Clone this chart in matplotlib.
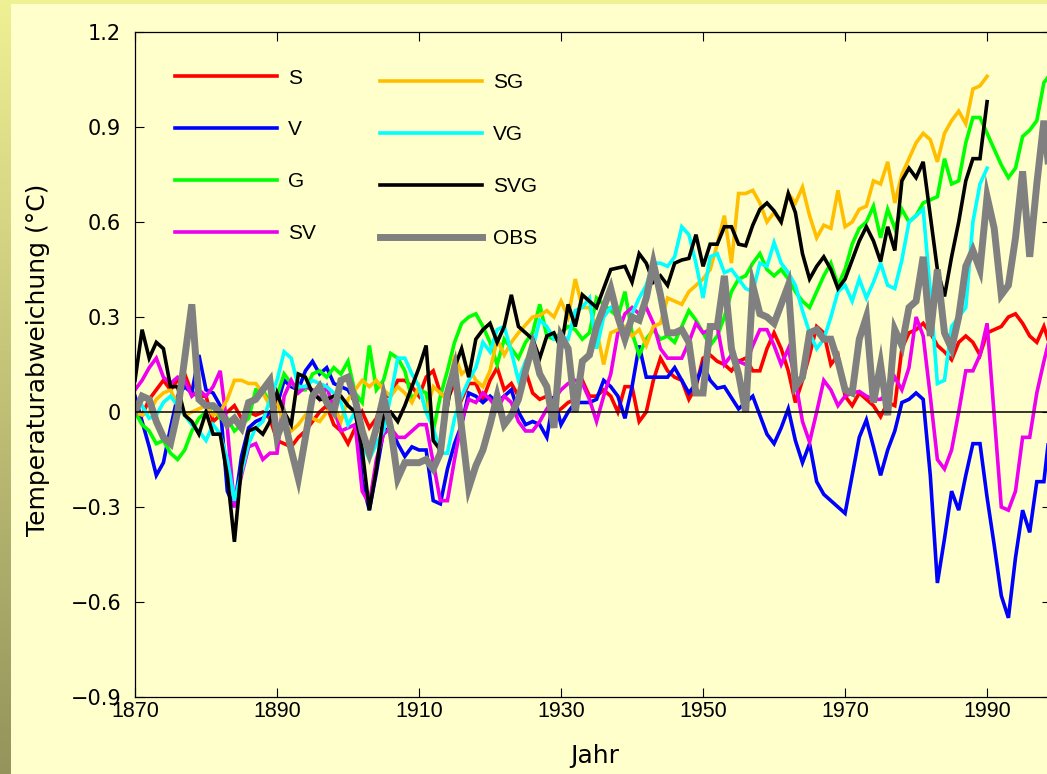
import numpy as np
import matplotlib
matplotlib.use('Agg')
import matplotlib.pyplot as plt

# ---------------- data ----------------
years_all = np.arange(1870, 2000)      # 1870..1999
years_1990 = np.arange(1870, 1991)     # 1870..1990

S = [0.00, -0.01, 0.04, 0.07, 0.10, 0.07, 0.10, 0.12, 0.06, 0.05,
     0.05, -0.03, -0.01, 0.00, 0.02, -0.02, 0.00, -0.01, 0.00, -0.02,
     -0.09, -0.10, -0.11, -0.08, -0.06, -0.03, 0.00, 0.02, -0.04, -0.06,
     -0.10, -0.05, 0.00, -0.05, -0.02, 0.05, 0.05, 0.10, 0.10, 0.08,
     0.05, 0.11, 0.13, 0.06, 0.04, 0.09, 0.04, 0.09, 0.09, 0.04,
     0.10, 0.14, 0.07, 0.09, 0.05, 0.13, 0.06, 0.04, 0.05, 0.00,
     0.01, 0.03, 0.04, 0.10, 0.05, 0.05, 0.07, 0.05, 0.00, 0.08,
     0.08, -0.03, 0.00, 0.10, 0.17, 0.13, 0.11, 0.10, 0.04, 0.08,
     0.17, 0.18, 0.16, 0.15, 0.13, 0.16, 0.17, 0.13, 0.13, 0.20,
     0.25, 0.20, 0.13, 0.03, 0.10, 0.18, 0.27, 0.25, 0.15, 0.18,
     0.05, 0.02, 0.06, 0.04, 0.02, -0.015, 0.03, 0.02, 0.20, 0.25,
     0.26, 0.28, 0.25, 0.21, 0.19, 0.165, 0.22, 0.24, 0.22, 0.18,
     0.25, 0.26, 0.27, 0.30, 0.31, 0.28, 0.24, 0.22, 0.27, 0.20]

V = [0.05, -0.03, -0.11, -0.20, -0.16, -0.05, 0.05, 0.08, 0.06, 0.18,
     0.07, 0.06, 0.02, -0.25, -0.30, -0.14, -0.05, -0.03, -0.02, 0.00,
     0.02, 0.10, 0.08, 0.07, 0.13, 0.16, 0.12, 0.14, 0.09, 0.08,
     0.07, 0.03, -0.22, -0.31, -0.19, -0.06, -0.05, -0.10, -0.14, -0.11,
     -0.12, -0.12, -0.28, -0.29, -0.18, -0.10, -0.04, 0.06, 0.05, 0.03,
     0.05, 0.03, 0.05, 0.07, 0.00, -0.04, -0.03, -0.04, -0.08, 0.05,
     -0.04, 0.00, 0.03, 0.03, 0.03, 0.04, 0.10, 0.08, 0.05, -0.02,
     0.08, 0.21, 0.11, 0.11, 0.11, 0.11, 0.14, 0.10, 0.06, 0.09,
     0.15, 0.10, 0.075, 0.08, 0.045, 0.01, 0.03, 0.05, -0.01, -0.07,
     -0.10, -0.05, 0.01, -0.09, -0.16, -0.10, -0.22, -0.26, -0.28, -0.30,
     -0.32, -0.20, -0.08, -0.025, -0.11, -0.20, -0.12, -0.06, 0.03, 0.04,
     0.06, 0.04, -0.20, -0.54, -0.40, -0.25, -0.31, -0.20, -0.10, -0.10,
     -0.27, -0.42, -0.58, -0.65, -0.46, -0.31, -0.38, -0.22, -0.22, -0.02]

G = [0.00, -0.04, -0.06, -0.10, -0.09, -0.13, -0.15, -0.12, -0.06, -0.02,
     0.00, 0.015, -0.02, -0.02, -0.06, -0.04, -0.02, 0.07, 0.07, 0.03,
     0.05, 0.12, 0.09, 0.07, 0.07, 0.12, 0.13, 0.11, 0.14, 0.12,
     0.16, 0.06, 0.03, 0.21, 0.07, 0.10, 0.185, 0.17, 0.13, 0.04,
     0.07, 0.06, -0.06, 0.05, 0.13, 0.22, 0.28, 0.30, 0.31, 0.27,
     0.22, 0.15, 0.23, 0.20, 0.17, 0.22, 0.25, 0.34, 0.24, 0.23,
     0.25, 0.27, 0.26, 0.23, 0.25, 0.36, 0.34, 0.32, 0.30, 0.38,
     0.25, 0.18, 0.23, 0.26, 0.23, 0.24, 0.22, 0.27, 0.32, 0.29,
     0.25, 0.21, 0.24, 0.30, 0.38, 0.42, 0.43, 0.47, 0.50, 0.45,
     0.43, 0.45, 0.42, 0.38, 0.35, 0.33, 0.38, 0.43, 0.47, 0.40,
     0.45, 0.53, 0.58, 0.60, 0.65, 0.55, 0.64, 0.58, 0.64, 0.60,
     0.62, 0.66, 0.67, 0.68, 0.80, 0.72, 0.73, 0.85, 0.93, 0.93,
     0.88, 0.83, 0.78, 0.74, 0.77, 0.87, 0.89, 0.92, 1.04, 1.07]

SV = [0.07, 0.10, 0.14, 0.17, 0.11, 0.09, 0.11, 0.10, 0.05, 0.07,
      0.05, 0.08, 0.13, -0.05, -0.30, -0.20, -0.11, -0.10, -0.15, -0.13,
      -0.13, 0.05, 0.10, 0.06, 0.08, 0.07, 0.04, 0.08, 0.01, -0.06,
      -0.05, -0.04, -0.25, -0.29, -0.15, -0.07, -0.05, -0.08, -0.08, -0.06,
      -0.04, -0.04, -0.16, -0.28, -0.28, -0.15, -0.03, 0.04, 0.03, 0.06,
      0.04, 0.01, 0.05, 0.03, -0.03, -0.06, -0.06, -0.03, 0.01, 0.04,
      0.07, 0.09, 0.10, 0.09, 0.04, -0.03, 0.05, 0.12, 0.25, 0.31,
      0.33, 0.31, 0.33, 0.28, 0.20, 0.17, 0.17, 0.17, 0.22, 0.28,
      0.25, 0.26, 0.27, 0.15, 0.18, 0.16, 0.15, 0.21, 0.26, 0.26,
      0.21, 0.15, 0.20, 0.10, -0.03, -0.095, 0.00, 0.10, 0.07, 0.02,
      0.05, 0.06, 0.065, 0.05, 0.04, 0.04, 0.06, 0.11, 0.07, 0.14,
      0.30, 0.24, 0.05, -0.15, -0.18, -0.12, 0.00, 0.13, 0.13, 0.18,
      0.28, -0.01, -0.30, -0.31, -0.25, -0.08, -0.08, 0.06, 0.16, 0.25]

SG = [0.00, -0.01, 0.00, 0.04, 0.06, 0.07, 0.02, -0.01, 0.00, 0.01,
      0.02, -0.01, 0.00, 0.04, 0.10, 0.10, 0.09, 0.09, 0.06, 0.02,
      0.03, -0.04, -0.06, -0.04, -0.01, -0.02, -0.03, 0.00, 0.02, -0.03,
      0.04, 0.07, 0.10, 0.08, 0.10, 0.07, 0.05, 0.08, 0.06, 0.03,
      0.08, 0.00, 0.08, 0.06, 0.04, 0.18, 0.12, 0.14, 0.10, 0.08,
      0.13, 0.23, 0.18, 0.22, 0.25, 0.275, 0.30, 0.305, 0.32, 0.30,
      0.35, 0.30, 0.42, 0.33, 0.33, 0.26, 0.15, 0.25, 0.26, 0.27,
      0.24, 0.26, 0.21, 0.27, 0.28, 0.36, 0.35, 0.34, 0.38, 0.40,
      0.42, 0.45, 0.53, 0.62, 0.47, 0.69, 0.69, 0.70, 0.66, 0.60,
      0.63, 0.60, 0.69, 0.66, 0.71, 0.62, 0.55, 0.59, 0.58, 0.70,
      0.585, 0.60, 0.64, 0.65, 0.73, 0.72, 0.79, 0.66, 0.75, 0.80,
      0.85, 0.88, 0.86, 0.79, 0.88, 0.92, 0.95, 0.91, 1.02, 1.03,
      1.06]

VG = [0.03, 0.02, -0.02, -0.01, 0.03, 0.05, 0.02, -0.01, -0.04, -0.06,
      -0.09, -0.04, -0.07, -0.15, -0.28, -0.19, -0.10, -0.05, -0.03, 0.04,
      0.10, 0.19, 0.17, 0.08, 0.08, 0.10, 0.09, 0.08, 0.06, 0.03,
      -0.04, 0.00, -0.10, -0.15, -0.10, -0.06, 0.05, 0.17, 0.17, 0.12,
      0.08, 0.00, -0.05, -0.13, -0.13, -0.02, 0.05, 0.10, 0.14, 0.22,
      0.19, 0.26, 0.27, 0.19, 0.10, 0.16, 0.20, 0.29, 0.27, 0.23,
      0.24, 0.23, 0.32, 0.33, 0.36, 0.20, 0.30, 0.33, 0.32, 0.24,
      0.31, 0.36, 0.40, 0.47, 0.47, 0.46, 0.49, 0.585, 0.56, 0.47,
      0.36, 0.49, 0.50, 0.44, 0.45, 0.42, 0.39, 0.38, 0.47, 0.46,
      0.535, 0.47, 0.44, 0.40, 0.32, 0.25, 0.20, 0.23, 0.30, 0.38,
      0.40, 0.35, 0.42, 0.36, 0.41, 0.47, 0.40, 0.39, 0.48, 0.60,
      0.62, 0.64, 0.38, 0.09, 0.10, 0.27, 0.30, 0.33, 0.60, 0.72,
      0.77]

SVG = [0.10, 0.26, 0.17, 0.22, 0.20, 0.08, 0.08, -0.01, -0.03, -0.07,
       0.00, -0.07, -0.07, -0.20, -0.41, -0.17, -0.06, -0.05, -0.07, -0.03,
       0.06, 0.00, -0.04, 0.12, 0.11, 0.06, 0.04, 0.04, 0.05, 0.05,
       0.02, 0.00, -0.12, -0.31, -0.18, -0.01, 0.00, -0.03, 0.02, 0.08,
       0.14, 0.21, -0.09, -0.12, 0.02, 0.14, 0.20, 0.11, 0.23, 0.26,
       0.28, 0.22, 0.27, 0.37, 0.27, 0.25, 0.23, 0.17, 0.24, 0.25,
       0.20, 0.34, 0.27, 0.37, 0.35, 0.33, 0.39, 0.45, 0.455, 0.46,
       0.41, 0.50, 0.47, 0.41, 0.43, 0.40, 0.47, 0.48, 0.485, 0.56,
       0.46, 0.53, 0.53, 0.585, 0.585, 0.53, 0.525, 0.59, 0.64, 0.66,
       0.635, 0.60, 0.69, 0.63, 0.50, 0.42, 0.46, 0.49, 0.45, 0.39,
       0.42, 0.48, 0.54, 0.585, 0.54, 0.475, 0.585, 0.51, 0.73, 0.77,
       0.74, 0.79, 0.62, 0.45, 0.365, 0.49, 0.60, 0.73, 0.80, 0.80,
       0.98]

OBS = [0.00, 0.05, 0.04, -0.03, -0.08, -0.10, 0.00, 0.17, 0.34, 0.04,
       0.02, 0.02, 0.00, -0.04, -0.02, -0.05, 0.03, 0.04, 0.07, 0.10,
       -0.08, -0.02, -0.12, -0.21, -0.08, 0.05, 0.08, 0.03, 0.00, 0.10,
       0.11, 0.04, -0.06, -0.13, -0.05, 0.05, -0.05, -0.21, -0.16, -0.16,
       -0.16, -0.15, -0.18, -0.13, 0.06, 0.14, -0.05, -0.24, -0.17, -0.12,
       -0.04, 0.05, -0.04, -0.01, 0.04, 0.13, 0.21, 0.12, 0.08, -0.05,
       0.24, 0.20, 0.00, 0.16, 0.18, 0.27, 0.33, 0.39, 0.30, 0.23,
       0.30, 0.29, 0.36, 0.47, 0.37, 0.25, 0.25, 0.26, 0.22, 0.06,
       0.06, 0.27, 0.27, 0.43, 0.20, 0.12, 0.00, 0.40, 0.31, 0.30,
       0.28, 0.34, 0.40, 0.08, 0.11, 0.25, 0.26, 0.23, 0.23, 0.16,
       0.07, 0.06, 0.23, 0.30, 0.03, 0.15, -0.01, 0.26, 0.21, 0.33,
       0.35, 0.49, 0.24, 0.45, 0.25, 0.20, 0.30, 0.46, 0.51, 0.45,
       0.68, 0.58, 0.37, 0.40, 0.55, 0.76, 0.49, 0.72, 0.92, 0.70]

x_ticks = [1870, 1890, 1910, 1930, 1950, 1970, 1990]
y_ticks = [-0.9, -0.6, -0.3, 0, 0.3, 0.6, 0.9, 1.2]
y_ticklabels = ['\u22120.9', '\u22120.6', '\u22120.3', '0', '0.3', '0.6', '0.9', '1.2']

# ---------------- style ----------------
plt.rcParams['font.family'] = ['Liberation Sans', 'DejaVu Sans']

W, H = 1047, 774
BG = '#ffffcc'
fig = plt.figure(figsize=(W / 100, H / 100), dpi=100, facecolor=BG)

# decorative border strips (top and left gradient)
top = fig.add_axes([0, 1 - 4 / H, 1, 4 / H])
top.set_axis_off()
top.add_patch(plt.Rectangle((0, 0), 1, 1, transform=top.transAxes,
                            color=(0.94, 0.94, 0.58)))
left = fig.add_axes([0, 0, 11 / W, 1])
grad = np.linspace(0, 1, 256)[:, None]
c_top = np.array([0.94, 0.94, 0.58])
c_bot = np.array([0.58, 0.58, 0.36])
img = c_top[None, None, :] * (1 - grad[:, :, None]) + c_bot[None, None, :] * grad[:, :, None]
left.imshow(img, aspect='auto', extent=[0, 1, 0, 1])
left.set_axis_off()

ax = fig.add_axes([135 / W, (H - 697) / H, (1051 - 135) / W, 665 / H])
ax.set_facecolor(BG)

lw = 2.6
series = [
    ('S', years_all, S, '#ff0000', lw),
    ('V', years_all, V, '#0000ff', lw),
    ('G', years_all, G, '#00ff00', lw),
    ('SV', years_all, SV, '#ee00ee', lw),
    ('SG', years_1990, SG, '#ffbf00', lw),
    ('VG', years_1990, VG, '#00ffff', lw),
    ('SVG', years_1990, SVG, '#000000', lw),
    ('OBS', years_all, OBS, '#808080', 5.0),
]
handles = []
for name, xs, ys, col, w in series:
    h, = ax.plot(xs, ys, color=col, lw=w, label=name, solid_joinstyle='miter')
    handles.append(h)

ax.axhline(0, color='black', lw=1.1, zorder=10)

ax.set_xlim(1870, 1999)
ax.set_ylim(-0.9, 1.2)
ax.set_xticks(x_ticks)
ax.set_yticks(y_ticks)
ax.set_yticklabels(y_ticklabels, family='DejaVu Sans', fontsize=15)
ax.tick_params(direction='in', length=6.5, width=0.8, top=True, right=True,
               colors='black')
ax.tick_params(axis='x', pad=3, labelsize=15.5)
ax.tick_params(axis='y', pad=10)
for sp in ax.spines.values():
    sp.set_linewidth(0.9)
    sp.set_color('black')

ax.set_xlabel('Jahr', fontsize=18, family='DejaVu Sans')
ax.xaxis.set_label_coords(0.502, -0.071)
ax.xaxis.label.set_va('top')
ax.set_ylabel('Temperaturabweichung (\u00b0C)', fontsize=18, family='DejaVu Sans')
ax.yaxis.set_label_coords(-0.093, 0.507)

leg_kw = dict(frameon=False, fontsize=15, handlelength=4.9, handletextpad=0.53,
              labelspacing=1.58, borderpad=0, borderaxespad=0, loc='upper left')
leg1 = ax.legend(handles[:4], [s[0] for s in series[:4]],
                 bbox_to_anchor=(0.0437, 0.9451), **leg_kw)
ax.add_artist(leg1)
leg2 = ax.legend(handles[4:], [s[0] for s in series[4:]],
                 bbox_to_anchor=(0.2675, 0.9376), **leg_kw)

fig.savefig('out.png', dpi=100, facecolor=BG)
